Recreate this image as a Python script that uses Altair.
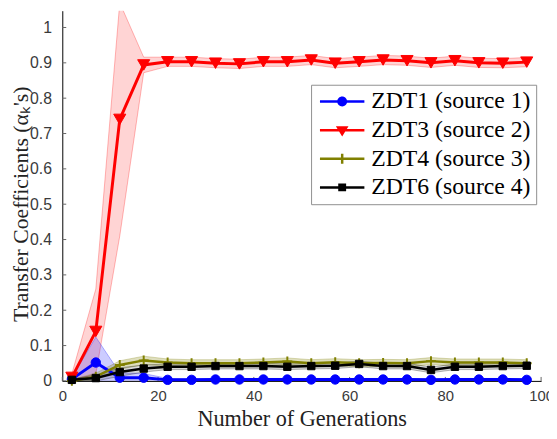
import altair as alt
import pandas as pd

# ---------------- data ----------------
generations = [2, 7, 12, 17, 22, 27, 32, 37, 42, 47, 52, 57, 62, 67, 72, 77, 82, 87, 92, 97]

series_names = ["ZDT1 (source 1)", "ZDT3 (source 2)", "ZDT4 (source 3)", "ZDT6 (source 4)"]
series_colors = ["#0000ff", "#ff0000", "#808000", "#000000"]

zdt1_mean = [0.005, 0.052, 0.009, 0.009, 0.003, 0.003, 0.004, 0.004, 0.004, 0.004,
             0.004, 0.004, 0.004, 0.004, 0.004, 0.003, 0.004, 0.004, 0.004, 0.003]
zdt1_std = [0.005, 0.072, 0.014, 0.012, 0.004, 0.003, 0.003, 0.003, 0.003, 0.003,
            0.003, 0.003, 0.003, 0.003, 0.003, 0.003, 0.003, 0.003, 0.003, 0.003]
zdt3_mean = [0.010, 0.140, 0.740, 0.894, 0.903, 0.903, 0.899, 0.897, 0.903, 0.903,
             0.908, 0.899, 0.903, 0.908, 0.906, 0.900, 0.906, 0.900, 0.899, 0.902]
zdt3_std = [0.010, 0.120, 0.330, 0.022, 0.013, 0.013, 0.013, 0.013, 0.013, 0.013,
            0.013, 0.013, 0.013, 0.013, 0.013, 0.013, 0.013, 0.013, 0.013, 0.013]
zdt4_mean = [0.000, 0.012, 0.045, 0.058, 0.052, 0.050, 0.050, 0.050, 0.052, 0.055,
             0.050, 0.053, 0.050, 0.051, 0.050, 0.056, 0.052, 0.052, 0.052, 0.050]
zdt4_std = [0.004, 0.010, 0.012, 0.012, 0.010, 0.010, 0.010, 0.010, 0.010, 0.010,
            0.010, 0.010, 0.010, 0.010, 0.010, 0.010, 0.010, 0.010, 0.010, 0.010]
zdt6_mean = [0.003, 0.008, 0.025, 0.035, 0.040, 0.040, 0.042, 0.042, 0.042, 0.040,
             0.042, 0.043, 0.048, 0.042, 0.042, 0.031, 0.040, 0.040, 0.042, 0.043]
zdt6_std = [0.003, 0.008, 0.012, 0.010, 0.008, 0.008, 0.008, 0.008, 0.008, 0.008,
            0.008, 0.008, 0.008, 0.008, 0.008, 0.008, 0.008, 0.008, 0.008, 0.008]

x_ticks = [0, 20, 40, 60, 80, 100]
y_ticks = [0, 0.1, 0.2, 0.3, 0.4, 0.5, 0.6, 0.7, 0.8, 0.9, 1]

means = [zdt1_mean, zdt3_mean, zdt4_mean, zdt6_mean]
stds = [zdt1_std, zdt3_std, zdt4_std, zdt6_std]

rows = []
for name, mv, sv in zip(series_names, means, stds):
    for g, m, s in zip(generations, mv, sv):
        rows.append({"gen": g, "series": name, "mean": m, "lo": m - s, "hi": m + s})
df = pd.DataFrame(rows)

# ---------------- styles ----------------
PLUS = "M-1,0H1M0,-1V1"
marker_shapes = ["circle", "triangle-down", PLUS, "square"]
marker_sizes = [90, 150, 100, 56]
line_widths = [3, 3, 2.5, 2.5]
band_opacity = [0.2, 0.17, 0.25, 0.15]

LINE = "M-2.8125,-0.156H2.8125V0.156H-2.8125Z"
legend_paths = [
    LINE + "M0.625,0A0.625,0.625,0,1,1,-0.625,0A0.625,0.625,0,1,1,0.625,0Z",
    LINE + "M-0.8,-0.5H0.8L0,0.8Z",
    LINE + "M-0.156,-0.625H0.156V0.625H-0.156Z",
    LINE + "M-0.5,-0.5H0.5V0.5H-0.5Z",
]

W, H = 485, 375
x_scale = alt.Scale(domain=[0, 100], nice=False, zero=False)
y_scale = alt.Scale(domain=[0, 1.0475], nice=False, zero=False)

x_axis = alt.Axis(values=x_ticks, title="Number of Generations", ticks=False, grid=False,
                  labelPadding=8, labelFont="Liberation Sans", labelFontSize=15,
                  labelColor="#3a3a3a", domainColor="#000000", domainWidth=1,
                  labelFlush=False, labelOverlap=False,
                  titleFont="Liberation Serif", titleFontSize=22.5, titleFontWeight="normal",
                  titleColor="#222222", titleY=45, titleBaseline="alphabetic")
y_axis = alt.Axis(values=y_ticks, format="~g", title="Transfer Coefficients (\u03b1\u2096's)",
                  ticks=False, grid=False, labelPadding=11, labelFont="Liberation Sans",
                  labelFontSize=16, labelColor="#3a3a3a", domainColor="#000000", domainWidth=1,
                  labelOverlap=False,
                  titleFont="Liberation Serif", titleFontSize=22, titleFontWeight="normal",
                  titleColor="#222222", titleX=-35, titleY=H / 2 + 8,
                  titleBaseline="alphabetic", titleAngle=270)


def xenc(field="gen"):
    return alt.X(f"{field}:Q", scale=x_scale, axis=x_axis)


def yenc(field):
    return alt.Y(f"{field}:Q", scale=y_scale, axis=y_axis)


base = alt.Chart(df)
layers = []

# inward ticks
layers.append(
    alt.Chart(pd.DataFrame({"v": y_ticks})).mark_rule(color="#666666", strokeWidth=1).encode(
        y=yenc("v"), x=alt.value(0), x2=alt.value(4))
)
layers.append(
    alt.Chart(pd.DataFrame({"v": x_ticks})).mark_rule(color="#666666", strokeWidth=1).encode(
        x=xenc("v"), y=alt.value(H), y2=alt.value(H - 4))
)

# bands
for i in [1, 0, 2, 3]:
    name, col = series_names[i], series_colors[i]
    layers.append(
        base.transform_filter(alt.datum.series == name).mark_area(
            color=col, fillOpacity=band_opacity[i], stroke=col, strokeOpacity=0.35,
            strokeWidth=0.8, clip=True).encode(x=xenc(), y=yenc("lo"), y2="hi:Q")
    )

# lines and markers
for i in range(4):
    name, col = series_names[i], series_colors[i]
    sub = base.transform_filter(alt.datum.series == name)
    layers.append(sub.mark_line(color=col, strokeWidth=line_widths[i]).encode(x=xenc(), y=yenc("mean")))
    if marker_shapes[i] == PLUS:
        pts = sub.mark_point(shape=PLUS, filled=False, color=col, strokeWidth=2,
                             size=marker_sizes[i], opacity=1)
    else:
        pts = sub.mark_point(shape=marker_shapes[i], filled=True, color=col, stroke=col,
                             strokeWidth=1, size=marker_sizes[i], opacity=1)
    layers.append(pts.encode(x=xenc(), y=yenc("mean")))

legend = alt.Legend(title=None, orient="none", legendX=252, legendY=75,
                    labelFont="Liberation Serif", labelFontSize=24, labelColor="#000000",
                    labelLimit=400, symbolSize=256, symbolOffset=14.5, labelOffset=17.5,
                    rowPadding=5, padding=5, strokeColor="#8f8f8f", fillColor="#ffffff",
                    symbolStrokeWidth=0)

legend_layer = base.transform_filter("datum.gen < 0").mark_point(filled=True, opacity=1, size=256).encode(
    x=xenc(), y=yenc("mean"),
    color=alt.Color("series:N", scale=alt.Scale(domain=series_names, range=series_colors), legend=legend),
    shape=alt.Shape("series:N", scale=alt.Scale(domain=series_names, range=legend_paths), legend=legend),
)
layers.append(legend_layer)

chart = alt.layer(*layers).properties(
    width=W, height=H,
    padding={"left": 55, "top": 0, "right": 8, "bottom": 48},
    autosize=alt.AutoSizeParams(type="none"),
    background="#ffffff",
).configure_view(stroke=None)

chart.save("out.html", embed_options={"renderer": "svg", "actions": False})
